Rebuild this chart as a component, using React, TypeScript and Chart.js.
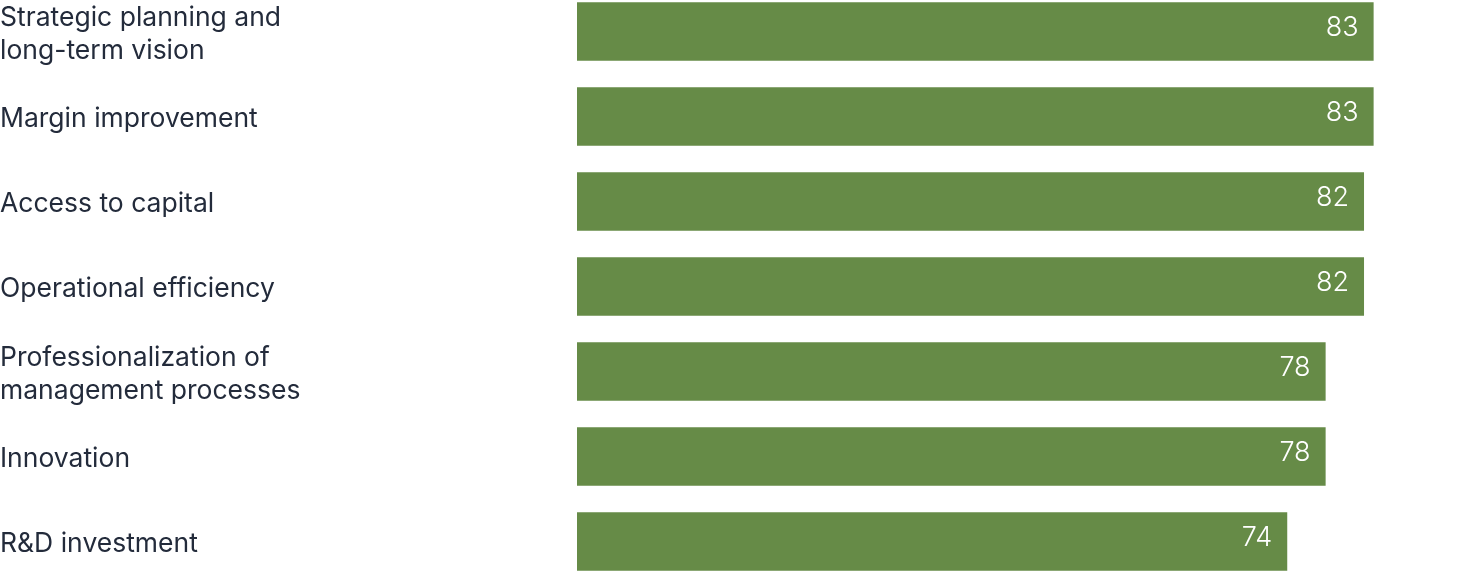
import React, { useEffect, useRef } from 'react';
import Chart from 'chart.js/auto';

const categories: (string | string[])[] = [
  ['Strategic planning and', 'long-term vision'],
  'Margin improvement',
  'Access to capital',
  'Operational efficiency',
  ['Professionalization of', 'management processes'],
  'Innovation',
  'R&D investment'
];

const scores = [83, 83, 82, 82, 78, 78, 74];

const BAR_COLOR = '#668b47';
const TEXT_COLOR = '#232b3b';
const FONT = 'Inter, "Noto Sans", sans-serif';

// prints the value inside the right end of each bar
const valueLabels = {
  id: 'valueLabels',
  afterDatasetsDraw(chart: Chart) {
    const ctx = chart.ctx;
    const meta = chart.getDatasetMeta(0);
    ctx.save();
    ctx.fillStyle = '#ffffff';
    ctx.font = `300 27px ${FONT}`;
    ctx.textAlign = 'right';
    ctx.textBaseline = 'middle';
    meta.data.forEach((bar: any, i: number) => {
      ctx.fillText(String(scores[i]), bar.x - 15, bar.y - 4);
    });
    ctx.restore();
  }
};

const App: React.FC = () => {
  const chartRef = useRef<HTMLCanvasElement>(null);
  const chartInstance = useRef<Chart | null>(null);

  useEffect(() => {
    if (!chartRef.current) return;
    if (chartInstance.current) {
      chartInstance.current.destroy();
    }
    const ctx = chartRef.current.getContext('2d');
    if (!ctx) return;

    chartInstance.current = new Chart(ctx, {
      type: 'bar',
      data: {
        labels: categories,
        datasets: [
          {
            data: scores,
            backgroundColor: BAR_COLOR,
            borderWidth: 0,
            barPercentage: 0.69,
            categoryPercentage: 1
          }
        ]
      },
      options: {
        indexAxis: 'y',
        animation: false,
        responsive: true,
        maintainAspectRatio: false,
        layout: { padding: 0 },
        scales: {
          x: {
            display: false,
            min: 0,
            max: 92
          },
          y: {
            grid: { display: false },
            border: { display: false },
            ticks: {
              crossAlign: 'far',
              color: TEXT_COLOR,
              padding: 0,
              labelOffset: 3,
              font: { family: FONT, size: 26.5, lineHeight: 1.25 }
            },
            afterFit: (scale: any) => {
              scale.width = 577;
              scale.paddingTop = 0;
              scale.paddingBottom = 0;
            }
          }
        },
        plugins: {
          legend: { display: false },
          tooltip: { enabled: false }
        }
      },
      plugins: [valueLabels]
    });

    return () => {
      if (chartInstance.current) {
        chartInstance.current.destroy();
        chartInstance.current = null;
      }
    };
  }, []);

  return (
    <div style={{ position: 'fixed', left: 0, top: -11, width: 1460, height: 595, background: '#fff' }}>
      <canvas ref={chartRef}></canvas>
    </div>
  );
};

export default App;
